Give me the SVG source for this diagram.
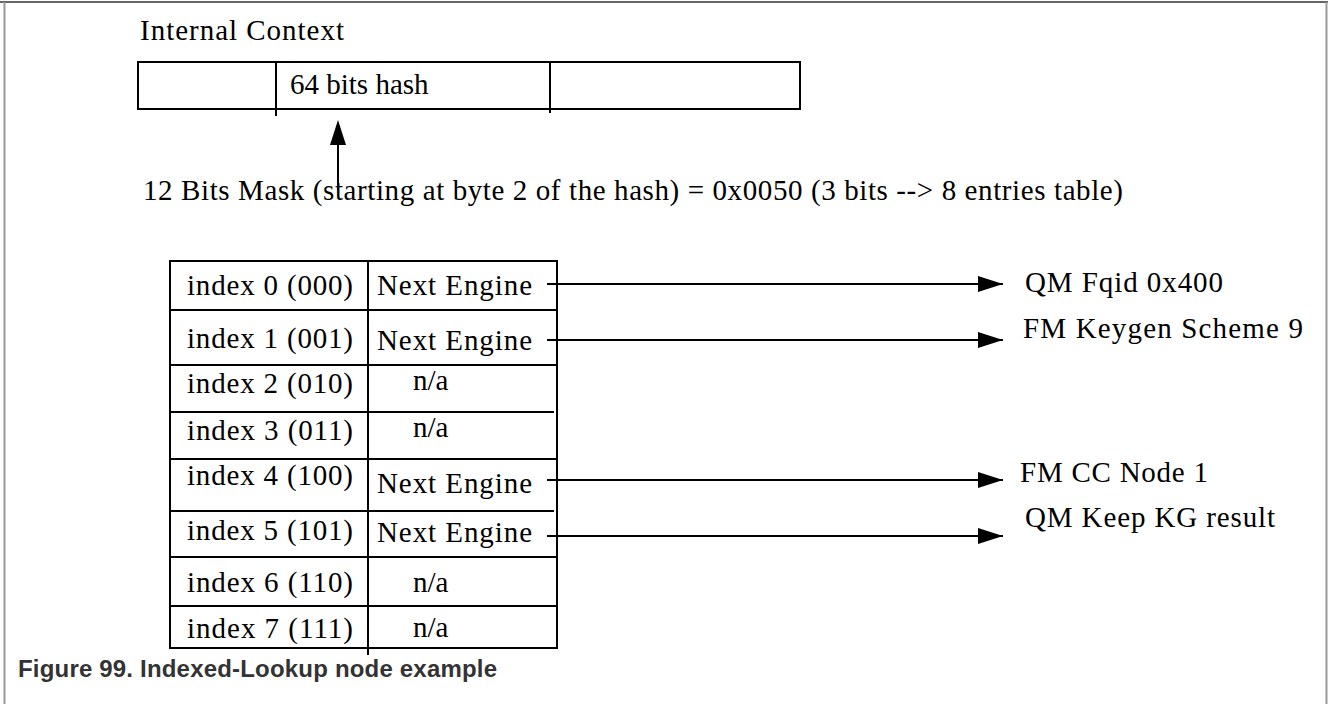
<svg xmlns="http://www.w3.org/2000/svg" width="1328" height="704" viewBox="0 0 1328 704">
<defs>
<style>
.t{font-family:"Liberation Serif","Times New Roman",serif;font-size:29px;fill:#000}
.ln{stroke:#000;stroke-width:2;fill:none}
.cap{font-family:"Liberation Sans",Arial,sans-serif;font-size:24px;font-weight:bold;fill:#333}
</style>
<marker id="ah" markerWidth="26" markerHeight="18" refX="25" refY="9" orient="auto" markerUnits="userSpaceOnUse">
<path d="M0,1 L25,9 L0,17 Z" fill="#000"/>
</marker>
</defs>
<rect width="1328" height="704" fill="#fff"/>
<g id="frame">
<line x1="0" y1="2" x2="1328" y2="2" stroke="#666" stroke-width="2"/>
<line x1="4.5" y1="2" x2="4.5" y2="704" stroke="#999" stroke-width="2"/>
<line x1="1326.5" y1="2" x2="1326.5" y2="704" stroke="#999" stroke-width="2"/>
</g>
<g id="internal-context">
<text class="t" x="140" y="40" font-size="26" textLength="204">Internal  Context</text>
<rect class="ln" x="138" y="62" width="662" height="47"/>
<line class="ln" x1="276" y1="62" x2="276" y2="116"/>
<line class="ln" x1="550" y1="62" x2="550" y2="113"/>
<text class="t" x="290" y="94" font-size="25">64 bits hash</text>
</g>
<g id="mask">
<text class="t" x="143" y="200" textLength="980">12 Bits Mask  (starting at byte 2  of the hash) = 0x0050  (3 bits --&gt; 8 entries table)</text>
</g>
<g id="table">
<rect class="ln" x="170" y="261" width="387" height="387"/>
<line class="ln" x1="368" y1="261" x2="368" y2="655"/>
<line class="ln" x1="170" y1="310" x2="557" y2="310"/>
<line class="ln" x1="170" y1="365" x2="557" y2="365"/>
<line class="ln" x1="170" y1="412" x2="554" y2="412"/>
<line class="ln" x1="170" y1="459" x2="557" y2="459"/>
<line class="ln" x1="170" y1="511" x2="554" y2="511"/>
<line class="ln" x1="170" y1="557" x2="557" y2="557"/>
<line class="ln" x1="170" y1="606" x2="557" y2="606"/>
<text class="t" x="187" y="295" textLength="166">index 0 (000)</text>
<text class="t" x="187" y="348" textLength="166">index 1 (001)</text>
<text class="t" x="187" y="393" textLength="166">index 2 (010)</text>
<text class="t" x="187" y="440" textLength="166">index 3 (011)</text>
<text class="t" x="187" y="485" textLength="166">index 4 (100)</text>
<text class="t" x="187" y="540" textLength="166">index 5 (101)</text>
<text class="t" x="187" y="592" textLength="166">index 6 (110)</text>
<text class="t" x="187" y="638" textLength="166">index 7 (111)</text>
<text class="t" x="377" y="295" textLength="155">Next  Engine</text>
<text class="t" x="377" y="350" textLength="155">Next  Engine</text>
<text class="t" x="413" y="390">n/a</text>
<text class="t" x="413" y="437">n/a</text>
<text class="t" x="377" y="493" textLength="155">Next  Engine</text>
<text class="t" x="377" y="542" textLength="155">Next  Engine</text>
<text class="t" x="413" y="592">n/a</text>
<text class="t" x="413" y="637">n/a</text>
</g>
<g id="targets">
<text class="t" x="1025" y="292" textLength="198">QM Fqid 0x400</text>
<text class="t" x="1023" y="338" textLength="280">FM Keygen  Scheme  9</text>
<text class="t" x="1020" y="482" textLength="188">FM CC Node 1</text>
<text class="t" x="1025" y="527" textLength="250">QM Keep KG result</text>
</g>
<g id="connectors">
<line class="ln" x1="338" y1="190" x2="338" y2="143"/>
<path d="M338,120 L346,145 L330,145 Z" fill="#000"/>
<line class="ln" x1="547" y1="284" x2="1003" y2="284" marker-end="url(#ah)"/>
<line class="ln" x1="547" y1="340" x2="1003" y2="340" marker-end="url(#ah)"/>
<line class="ln" x1="547" y1="480" x2="1003" y2="480" marker-end="url(#ah)"/>
<line class="ln" x1="547" y1="536" x2="1003" y2="536" marker-end="url(#ah)"/>
</g>
<g id="caption">
<text class="cap" x="18" y="677" textLength="479">Figure 99.  Indexed-Lookup node example</text>
</g>
</svg>
